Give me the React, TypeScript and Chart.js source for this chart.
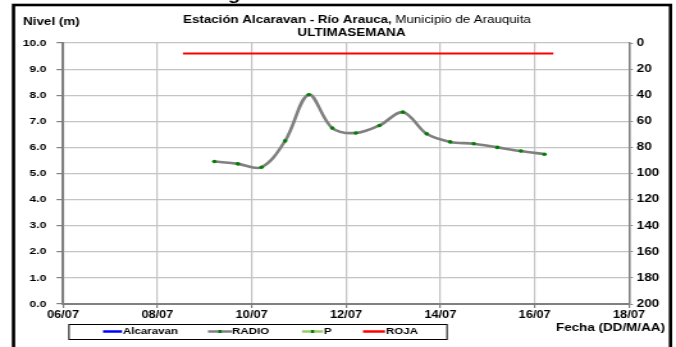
import React, { useEffect, useRef } from 'react';
import { Chart, registerables } from 'chart.js';

Chart.register(...registerables);

// ---- data ----
const readingTimes = [
  '09/07 05:00', '09/07 17:00', '10/07 05:00', '10/07 17:00', '11/07 05:00',
  '11/07 17:00', '12/07 05:00', '12/07 17:00', '13/07 05:00', '13/07 17:00',
  '14/07 05:00', '14/07 17:00', '15/07 05:00', '15/07 17:00', '16/07 05:00',
];
const radioLevels = [5.46, 5.37, 5.24, 6.25, 8.02, 6.74, 6.55, 6.84, 7.35, 6.52, 6.21, 6.14, 6.0, 5.86, 5.74];
const rojaTimes = ['08/07 13:00', '16/07 09:30'];
const rojaLevels = [9.6, 9.6];
const alcaravanTimes: string[] = [];
const alcaravanLevels: number[] = [];
const pTimes: string[] = [];
const pLevels: number[] = [];
const seriesNames = ['Alcaravan', 'RADIO', 'P', 'ROJA'];
const startDay = 6; // 06/07 is the x-axis origin
const xMaxDays = 12;
const xStepDays = 2;
const levelMin = 0;
const levelMax = 10;
const levelStep = 1;
const depthMin = 0;
const depthMax = 200;
const depthStep = 20;
const titleBold = 'Estación Alcaravan - Río Arauca,';
const titleNormal = ' Municipio de Arauquita';
const subtitle = 'ULTIMASEMANA';
const yTitle = 'Nivel (m)';
const xTitle = 'Fecha (DD/M/AA)';
const cutText = 'g';

// ---- helpers ----
const toDays = (s: string) => {
  const [d, t] = s.split(' ');
  const day = parseInt(d.split('/')[0], 10);
  const [hh, mm] = t.split(':').map((v) => parseInt(v, 10));
  return day - startDay + hh / 24 + mm / 1440;
};
const pts = (times: string[], vals: number[]) => times.map((t, i) => ({ x: toDays(t), y: vals[i] }));
const pad2 = (n: number) => (n < 10 ? '0' + n : '' + n);

const CW = 528; // internal canvas width (stretched horizontally to 676)
const CH = 347;
const S = 676 / CW;
const X = (px: number) => px / S;
const FAM = '"Liberation Sans", Arial, sans-serif';

const COLORS: Record<string, string> = {
  Alcaravan: '#0000ff',
  RADIO: '#808080',
  P: '#99cc66',
  ROJA: '#ff0000',
};

const decorPlugin = {
  id: 'decor',
  beforeDraw(chart: any) {
    const ctx = chart.ctx;
    ctx.save();
    ctx.fillStyle = '#ffffff';
    ctx.fillRect(0, 0, chart.width, chart.height);
    ctx.restore();
  },
  afterDraw(chart: any) {
    const ctx: CanvasRenderingContext2D = chart.ctx;
    ctx.save();
    ctx.fillStyle = '#000';
    // cut-off text above frame
    ctx.font = `bold 16px ${FAM}`;
    ctx.textBaseline = 'alphabetic';
    ctx.textAlign = 'left';
    ctx.fillText(cutText, X(228), 0);

    // frame
    ctx.strokeStyle = '#000';
    ctx.lineWidth = 2.6;
    ctx.strokeRect(X(13.5), 5, X(670.5) - X(13.5), 400);

    // title
    ctx.font = `bold 10.4px ${FAM}`;
    const w1 = ctx.measureText(titleBold).width;
    ctx.font = `10.4px ${FAM}`;
    const w2 = ctx.measureText(titleNormal).width;
    const x0 = X(357) - (w1 + w2) / 2;
    ctx.font = `bold 10.4px ${FAM}`;
    ctx.fillText(titleBold, x0, 23);
    ctx.font = `10.4px ${FAM}`;
    ctx.fillText(titleNormal, x0 + w1, 23);
    ctx.font = `bold 10.5px ${FAM}`;
    ctx.textAlign = 'center';
    ctx.fillText(subtitle, X(351.5), 35.5);

    // axis titles
    ctx.textAlign = 'left';
    ctx.font = `bold 10.5px ${FAM}`;
    ctx.fillText(yTitle, X(23), 25);
    ctx.font = `bold 10.5px ${FAM}`;
    ctx.fillText(xTitle, X(556), 331);

    // legend
    ctx.strokeStyle = '#000';
    ctx.lineWidth = 1;
    ctx.strokeRect(X(69), 324.5, X(447) - X(69), 15);
    const items = [
      { name: seriesNames[0], x1: 103, x2: 122, tx: 123, dot: false },
      { name: seriesNames[1], x1: 208, x2: 232, tx: 232, dot: true },
      { name: seriesNames[2], x1: 302, x2: 323, tx: 324, dot: true },
      { name: seriesNames[3], x1: 363, x2: 385, tx: 386, dot: false },
    ];
    const ly = 331.5;
    ctx.font = `bold 9px ${FAM}`;
    ctx.textBaseline = 'middle';
    items.forEach((it) => {
      ctx.strokeStyle = COLORS[it.name];
      ctx.lineWidth = 2.5;
      ctx.beginPath();
      ctx.moveTo(X(it.x1), ly);
      ctx.lineTo(X(it.x2), ly);
      ctx.stroke();
      if (it.dot) {
        ctx.fillStyle = '#008000';
        ctx.fillRect(X((it.x1 + it.x2) / 2) - 1.2, ly - 1.5, 2.4, 3);
      }
      ctx.fillStyle = '#000';
      ctx.fillText(it.name, X(it.tx), ly);
    });
    ctx.restore();
  },
};

export default function App() {
  const ref = useRef<HTMLCanvasElement | null>(null);

  useEffect(() => {
    document.body.style.margin = '0';
    const canvas = ref.current;
    if (!canvas) return;
    const chart = new Chart(canvas, {
      type: 'line',
      data: {
        datasets: [
          {
            label: seriesNames[1],
            data: pts(readingTimes, radioLevels),
            borderColor: COLORS.RADIO,
            borderWidth: 2.6,
            tension: 0.35,
            pointRadius: 1.8,
            pointBackgroundColor: '#008000',
            pointBorderWidth: 0,
            yAxisID: 'y',
          },
          {
            label: seriesNames[3],
            data: pts(rojaTimes, rojaLevels),
            borderColor: COLORS.ROJA,
            borderWidth: 2,
            pointRadius: 0,
            yAxisID: 'y',
          },
          {
            label: seriesNames[0],
            data: pts(alcaravanTimes, alcaravanLevels),
            borderColor: COLORS.Alcaravan,
            borderWidth: 2,
            pointRadius: 0,
            yAxisID: 'y',
          },
          {
            label: seriesNames[2],
            data: pts(pTimes, pLevels),
            borderColor: COLORS.P,
            borderWidth: 2,
            pointRadius: 0,
            yAxisID: 'y',
          },
        ],
      },
      options: {
        responsive: false,
        animation: false,
        devicePixelRatio: 1,
        layout: { padding: { top: 43, left: 0, right: 0, bottom: 0 } },
        plugins: { legend: { display: false }, title: { display: false }, tooltip: { enabled: false } },
        scales: {
          x: {
            type: 'linear',
            min: 0,
            max: xMaxDays,
            afterFit: (s: any) => { s.height = CH - 304; },
            ticks: {
              stepSize: xStepDays,
              autoSkip: false,
              maxRotation: 0,
              padding: 1,
              color: '#000',
              font: { family: FAM, weight: 'bold' as const, size: 10 },
              callback: (v: any) => `${pad2(startDay + Number(v))}/07`,
            },
            grid: { color: '#c4c4c4', lineWidth: 1.2, tickLength: 4, tickColor: '#808080' },
            border: { color: '#808080', width: 2 },
          },
          y: {
            type: 'linear',
            position: 'left',
            min: levelMin,
            max: levelMax,
            afterFit: (s: any) => { s.width = X(63); },
            ticks: {
              stepSize: levelStep,
              autoSkip: false,
              padding: 8,
              color: '#000',
              font: { family: FAM, weight: 'bold' as const, size: 9.5 },
              callback: (v: any) => Number(v).toFixed(1),
            },
            grid: { color: '#c4c4c4', lineWidth: 1.2, tickLength: 5, tickColor: '#808080' },
            border: { color: '#808080', width: 2 },
          },
          y2: {
            type: 'linear',
            position: 'right',
            min: depthMin,
            max: depthMax,
            reverse: true,
            afterFit: (s: any) => { s.width = CW - X(629); },
            ticks: {
              stepSize: depthStep,
              autoSkip: false,
              padding: 3,
              color: '#000',
              font: { family: FAM, weight: 'bold' as const, size: 10.5 },
            },
            grid: { drawOnChartArea: false, tickLength: 3, tickColor: '#808080' },
            border: { color: '#808080', width: 1.5 },
          },
        },
      },
      plugins: [decorPlugin],
    } as any);
    return () => chart.destroy();
  }, []);

  return (
    <div style={{ position: 'fixed', left: 0, top: 0, width: 676, height: 347, overflow: 'hidden', background: '#fff' }}>
      <canvas ref={ref} width={CW} height={CH} style={{ width: '676px', height: '347px', display: 'block' }} />
    </div>
  );
}
